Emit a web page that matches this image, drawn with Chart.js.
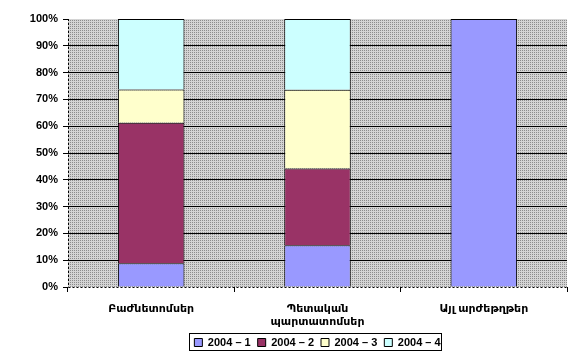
<!DOCTYPE html>
<html>
<head>
<meta charset="utf-8">
<script src="https://cdn.jsdelivr.net/npm/chart.js@4"></script>
<style>
  body { margin: 0; background: #fff; }
  #wrap { width: 588px; height: 360px; }
</style>
</head>
<body>
<div id="wrap"><canvas id="myChart"></canvas></div>
<script>
// categories and series (percent of each column)
const categories = ['Բաժնետոմսեր', ['Պետական', 'պարտատոմսեր'], 'Այլ արժեթղթեր'];
const seriesNames = ['2004 – 1', '2004 – 2', '2004 – 3', '2004 – 4'];
const q1 = [8.9, 15.6, 100];
const q2 = [52.4, 28.6, 0];
const q3 = [12.4, 29.4, 0];
const q4 = [26.3, 26.4, 0];
const yTicks = [0, 10, 20, 30, 40, 50, 60, 70, 80, 90, 100];

const colors = ['#9999ff', '#993366', '#ffffcc', '#ccffff'];
const fontFam = "Arial, 'Liberation Sans', 'DejaVu Sans', sans-serif";

// dotted grey fill of the plot area
const pat = document.createElement('canvas');
pat.width = 2; pat.height = 2;
const pc = pat.getContext('2d');
pc.fillStyle = '#d4d4d4';
pc.fillRect(0, 0, 2, 2);
pc.fillStyle = '#8c8c8c';
pc.fillRect(0, 0, 1, 1);

const plotBg = {
    id: 'plotBg',
    beforeDraw(chart) {
        const a = chart.chartArea;
        const c = chart.ctx;
        c.save();
        c.fillStyle = c.createPattern(pat, 'repeat');
        c.fillRect(a.left, a.top, a.right - a.left, a.bottom - a.top);
        c.restore();
    }
};

// dashed left and bottom axis lines, legend frame
const extras = {
    id: 'extras',
    afterDraw(chart) {
        const a = chart.chartArea;
        const c = chart.ctx;
        const x0 = Math.round(chart.scales.x.left) + 0.5;
        const y0 = Math.round(chart.scales.y.getPixelForValue(0)) + 0.5;
        c.save();
        c.strokeStyle = '#000';
        c.lineWidth = 1;
        c.setLineDash([2, 2]);
        c.beginPath();
        c.moveTo(x0, a.top);
        c.lineTo(x0, y0);
        c.moveTo(x0, y0);
        c.lineTo(a.right, y0);
        c.stroke();
        c.setLineDash([]);

        const boxes = chart.legend.legendHitBoxes;
        if (boxes && boxes.length) {
            let l = Infinity, r = -Infinity, t = Infinity, b = -Infinity;
            boxes.forEach(h => {
                l = Math.min(l, h.left); r = Math.max(r, h.left + h.width);
                t = Math.min(t, h.top); b = Math.max(b, h.top + h.height);
            });
            c.strokeRect(Math.round(l) - 4.5, Math.round(t) - 3.5, Math.round(r - l) + 6, Math.round(b - t) + 6);
        }
        c.restore();
    }
};

const allSeries = [q1, q2, q3, q4];

new Chart(document.getElementById('myChart'), {
    type: 'bar',
    data: {
        labels: categories,
        datasets: allSeries.map((d, i) => ({
            label: seriesNames[i],
            data: d,
            backgroundColor: colors[i],
            borderColor: '#000',
            borderWidth: 1,
            barPercentage: 0.4,
            categoryPercentage: 1
        }))
    },
    options: {
        responsive: true,
        maintainAspectRatio: false,
        animation: false,
        layout: {
            padding: { left: 0, right: 21, top: 19, bottom: 2 }
        },
        plugins: {
            tooltip: { enabled: false },
            legend: {
                position: 'bottom',
                fullSize: false,
                labels: {
                    boxWidth: 8,
                    boxHeight: 8,
                    padding: 7,
                    color: '#000',
                    font: { family: fontFam, size: 11, weight: 'bold' }
                }
            }
        },
        scales: {
            x: {
                stacked: true,
                afterFit: s => { s.height = 43; },
                grid: {
                    offset: true,
                    drawOnChartArea: false,
                    tickLength: 5,
                    tickColor: '#000'
                },
                border: { display: false },
                ticks: {
                    color: '#000',
                    padding: 10,
                    maxRotation: 0,
                    font: { family: fontFam, size: 11, weight: 'bold' }
                }
            },
            y: {
                stacked: true,
                min: 0,
                max: 100,
                afterFit: s => { s.width = 68; },
                afterBuildTicks: s => { s.ticks = yTicks.map(v => ({ value: v })); },
                grid: {
                    color: c => (c.tick && (c.tick.value === 100 || c.tick.value === 0)) ? 'rgba(0,0,0,0)' : '#000',
                    tickColor: '#000',
                    tickLength: 5
                },
                border: { display: false },
                ticks: {
                    color: '#000',
                    padding: 5,
                    callback: v => v + '%',
                    font: { family: fontFam, size: 11, weight: 'bold' }
                }
            }
        }
    },
    plugins: [plotBg, extras]
});
</script>
</body>
</html>
